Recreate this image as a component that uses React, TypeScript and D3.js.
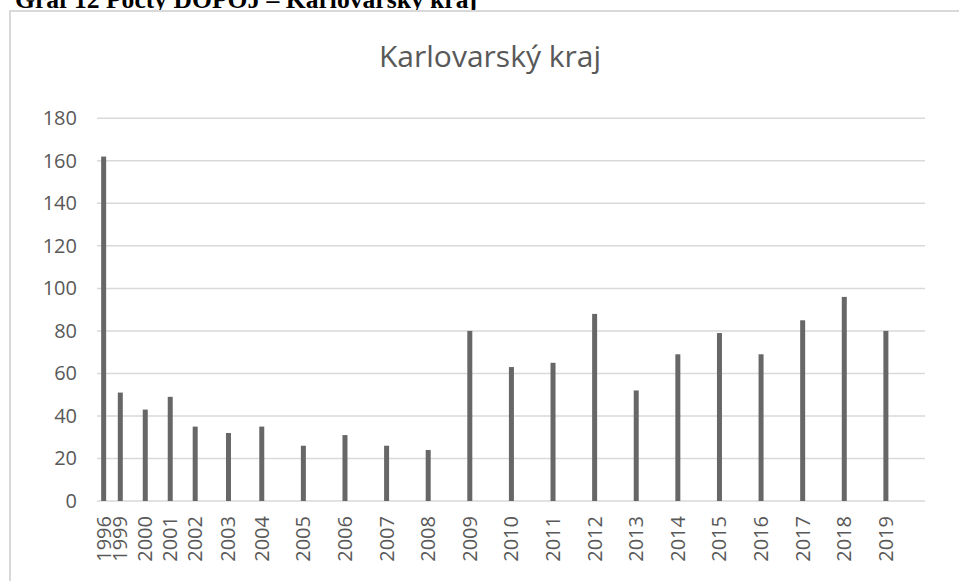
import React from "react";
import * as d3 from "d3";

const years = ["1996","1999","2000","2001","2002","2003","2004","2005","2006","2007","2008","2009","2010","2011","2012","2013","2014","2015","2016","2017","2018","2019"];
const axisPos = [0, 0.4, 1.0, 1.6, 2.2, 3.0, 3.8, 4.8, 5.8, 6.8, 7.8, 8.8, 9.8, 10.8, 11.8, 12.8, 13.8, 14.8, 15.8, 16.8, 17.8, 18.8];
const values = [162, 51, 43, 49, 35, 32, 35, 26, 31, 26, 24, 80, 63, 65, 88, 52, 69, 79, 69, 85, 96, 80];
const yTicks = [0, 20, 40, 60, 80, 100, 120, 140, 160, 180];
const chartTitle = "Karlovarský kraj";
const caption = "Graf 12 Počty DOPOJ – Karlovarský kraj";

export default function App() {
  const W = 959, H = 581;
  const left = 97, right = 925, top = 118.3, bottom = 501;
  const x = d3.scaleLinear().domain([-0.16, 19.74]).range([left, right]);
  const y = d3.scaleLinear().domain([0, 180]).range([bottom, top]);
  const font = "'Open Sans', 'Noto Sans', sans-serif";
  const barW = 5;
  return (
    <svg width={W} height={H} style={{ position: "absolute", left: 0, top: 0 }}>
      <rect x={0} y={0} width={W} height={H} fill="#fff" />
      <text x={15} y={7.5} fontFamily="'Liberation Serif', 'Times New Roman', serif" fontWeight="bold" fontSize={25.6} fill="#000">{caption}</text>
      <rect x={10} y={11} width={970} height={600} fill="#fff" stroke="#d9d9d9" strokeWidth={2} />
      <text x={490} y={67} textAnchor="middle" fontFamily={font} fontSize={30} fill="#595959">{chartTitle}</text>
      {yTicks.map((t) => (
        <g key={t}>
          <line x1={left} x2={right} y1={y(t)} y2={y(t)} stroke="#d9d9d9" strokeWidth={1.5} />
          <text x={77} y={y(t)} dy="0.35em" textAnchor="end" fontFamily={font} fontSize={20} fill="#595959">{t}</text>
        </g>
      ))}
      {values.map((v, i) => (
        <rect key={years[i]} x={x(axisPos[i]) - barW / 2} y={y(v)} width={barW} height={y(0) - y(v)} fill="#676767" />
      ))}
      {years.map((yr, i) => (
        <text key={yr} transform={`translate(${x(axisPos[i])},516) rotate(-90)`} dy="0.35em" textAnchor="end" fontFamily={font} fontSize={20} fill="#595959">{yr}</text>
      ))}
    </svg>
  );
}
